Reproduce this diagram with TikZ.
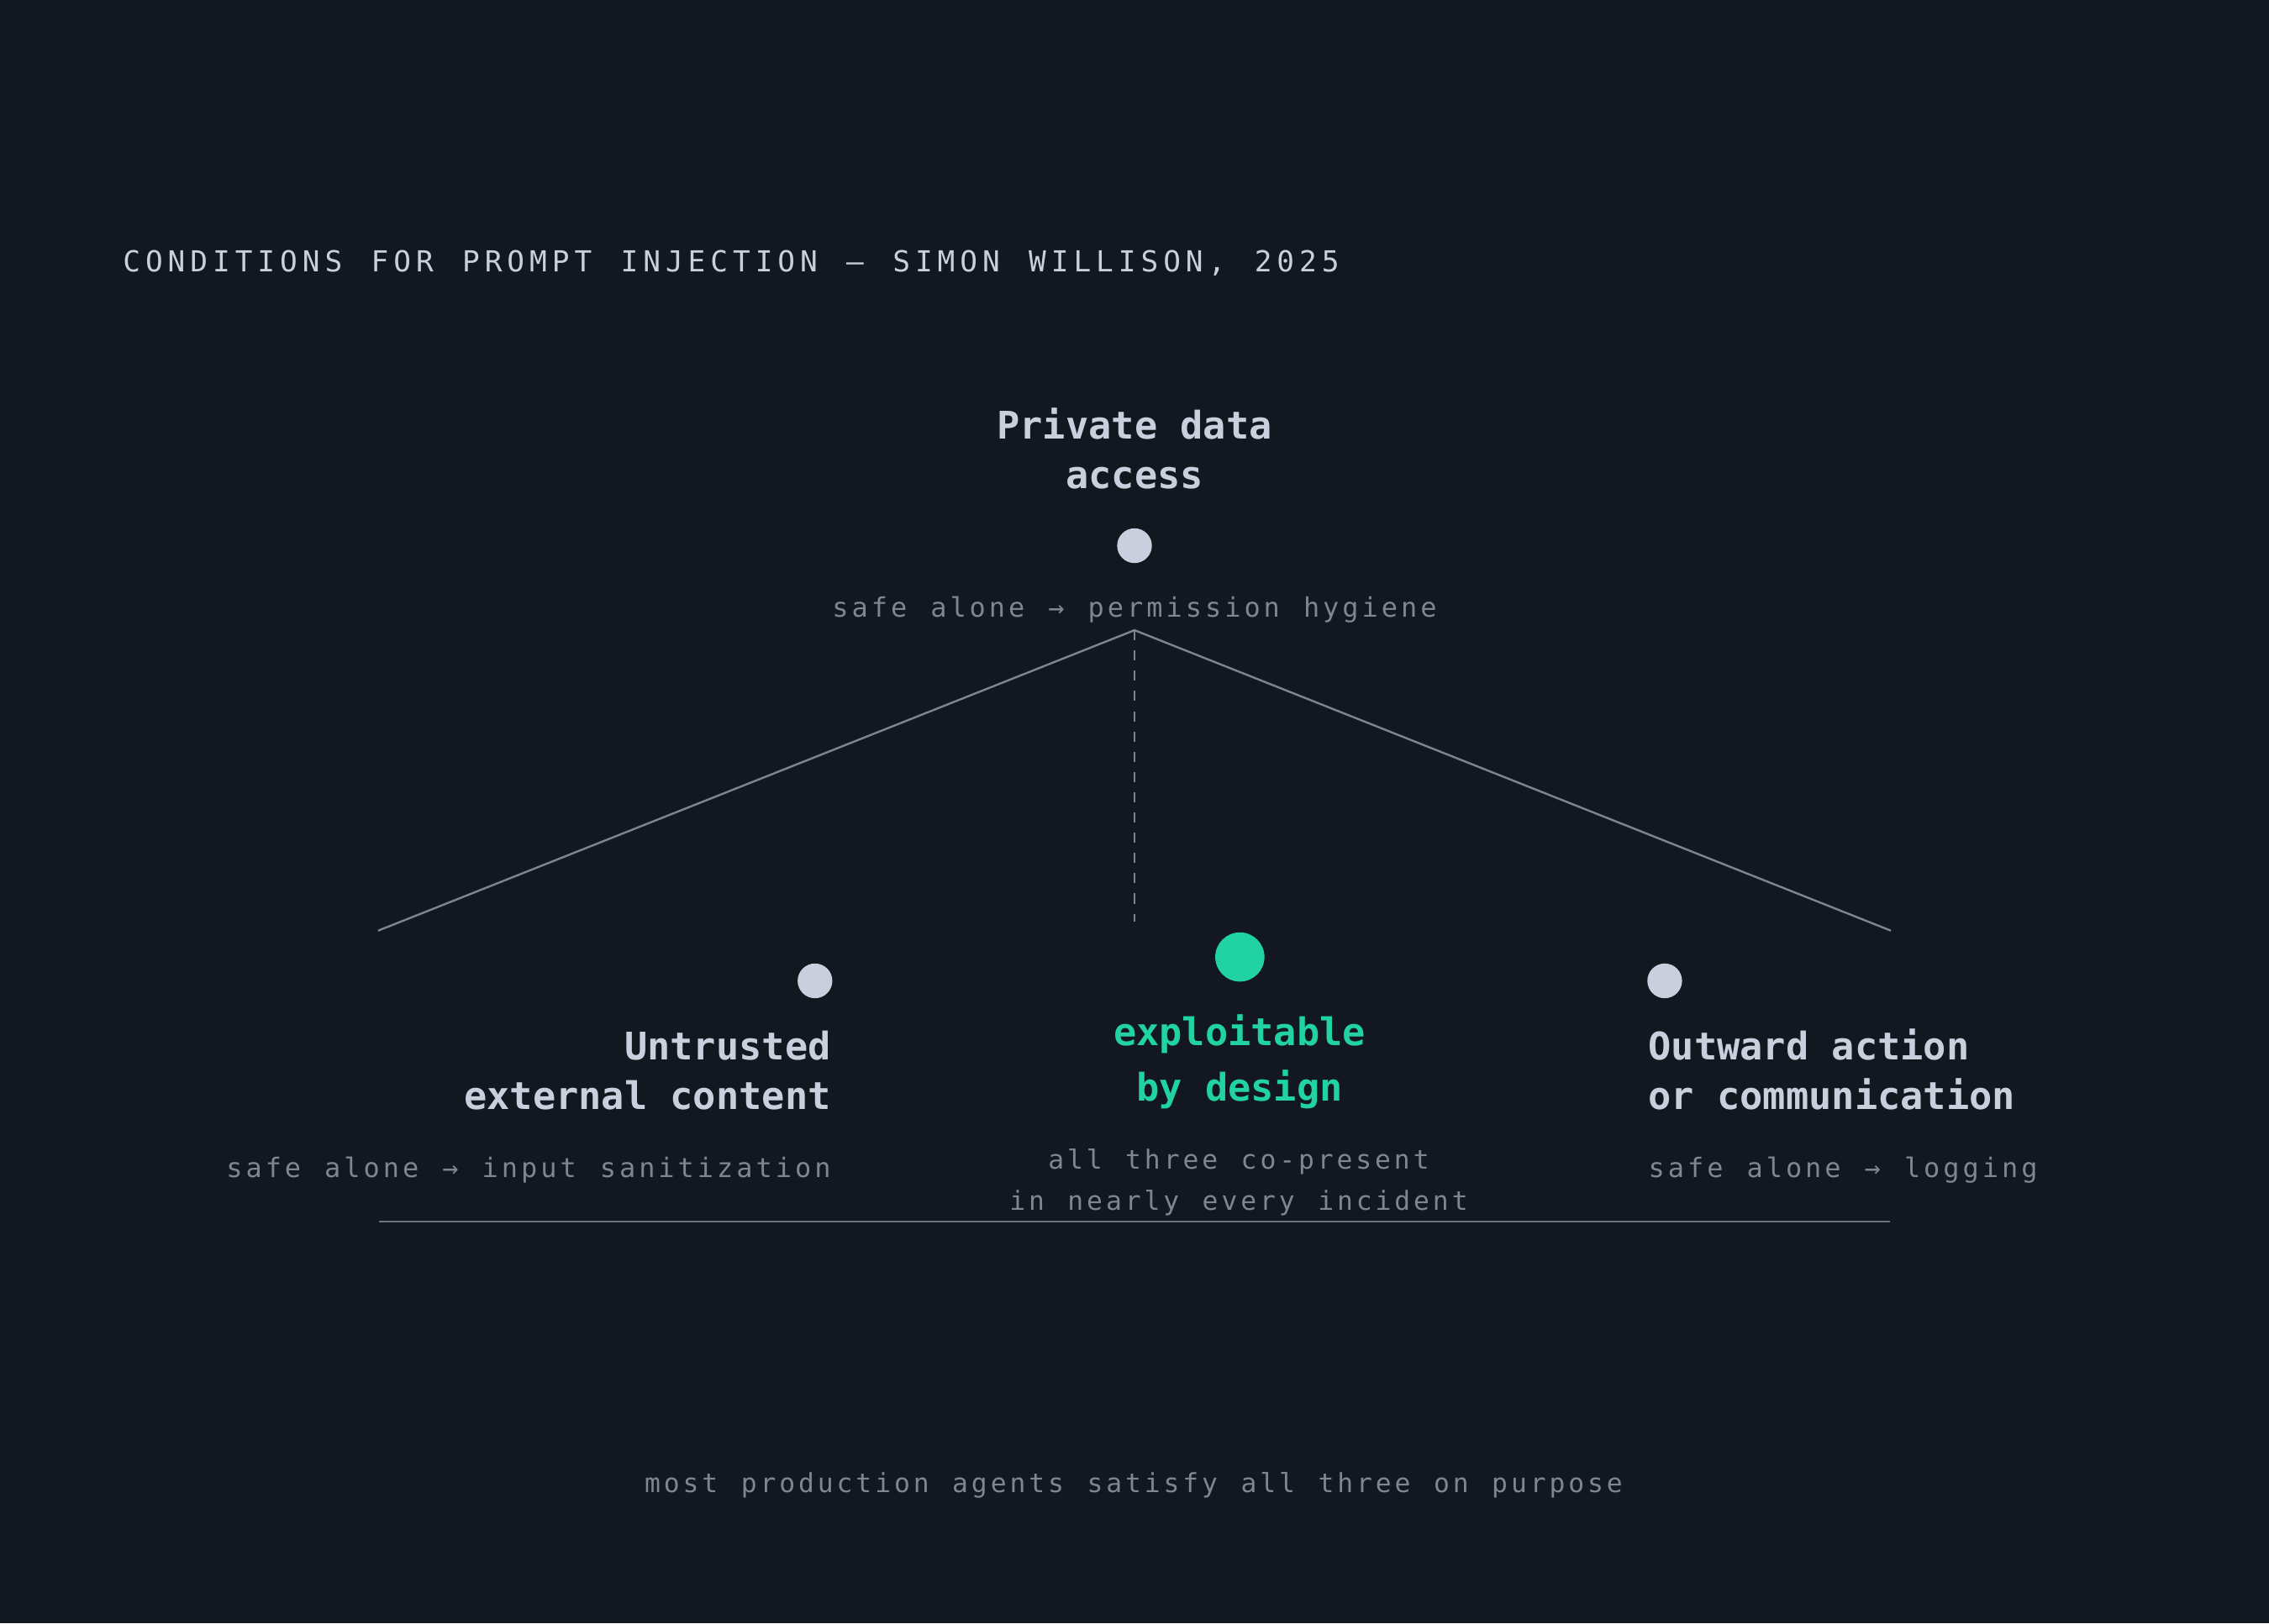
\documentclass[tikz,border=0pt]{standalone}
\usepackage{fontspec}
\setmonofont{DejaVu Sans Mono}
\newfontfamily\titlef[LetterSpace=17.3,WordSpace=1.287]{DejaVu Sans Mono}
\newfontfamily\subf[LetterSpace=12.5,WordSpace=1.2076]{DejaVu Sans Mono}
\newfontfamily\headf{DejaVu Sans Mono}
\definecolor{bgc}{HTML}{13171F}
\definecolor{lightc}{HTML}{C9CFDD}
\definecolor{grayc}{HTML}{80858F}
\definecolor{greenc}{HTML}{22D3A2}
\definecolor{linec}{HTML}{80848F}
\definecolor{basec}{HTML}{6E737D}
\tikzset{
  titletext/.style={font=\titlef\fontsize{20}{24}\selectfont, text=lightc, inner sep=0pt},
  head/.style={font=\headf\bfseries\fontsize{26.3}{34}\selectfont, text=lightc, inner sep=0pt},
  hothead/.style={head, text=greenc},
  sub/.style={font=\subf\fontsize{18.55}{28}\selectfont, text=grayc, inner sep=0pt},
  subsmall/.style={font=\subf\fontsize{18.2}{28}\selectfont, text=grayc, inner sep=0pt},
  dot/.style={circle, fill=lightc, minimum size=24pt, inner sep=0pt},
  hotdot/.style={circle, fill=greenc, minimum size=34pt, inner sep=0pt},
  link/.style={draw=linec, line width=1.4pt},
  dashlink/.style={draw=linec, line width=1.4pt, dash pattern=on 7pt off 7pt},
  baseline/.style={draw=basec, line width=0.9pt},
}
\begin{document}
\begin{tikzpicture}[x=1pt,y=-1pt]
\fill[bgc] (0,0) rectangle (1568,1122);
\useasboundingbox (0,0) rectangle (1568,1122);

% title
\node[titletext, anchor=base west] (title) at (84.8,187.6) {CONDITIONS FOR PROMPT INJECTION — SIMON WILLISON, 2025};

% top vertex
\node[head, anchor=base] (pvtA) at (784,303.7) {Private data};
\node[head, anchor=base] (pvtB) at (784,337.8) {access};
\node[dot] (pvtdot) at (784,377.2) {};
\node[sub, anchor=base] (pvtsub) at (784,426.8) {safe alone → permission hygiene};

% left vertex
\node[dot] (untdot) at (563.2,678) {};
\node[head, anchor=base east] (untA) at (574.3,732.7) {Untrusted};
\node[head, anchor=base east] (untB) at (574.3,767) {external content};
\node[sub, anchor=base east] (untsub) at (574.3,814) {safe alone → input sanitization};

% right vertex
\node[dot] (outdot) at (1150.4,678) {};
\node[head, anchor=base west] (outA) at (1139,732.7) {Outward action};
\node[head, anchor=base west] (outB) at (1139,767) {or communication};
\node[sub, anchor=base west] (outsub) at (1139,814) {safe alone → logging};

% centre
\node[hotdot] (hot) at (856.8,661.5) {};
\node[hothead, anchor=base] (hotA) at (856.6,723) {exploitable};
\node[hothead, anchor=base] (hotB) at (856.6,760.8) {by design};
\node[subsmall, anchor=base] (hotsubA) at (856,808.2) {all three co-present};
\node[subsmall, anchor=base] (hotsubB) at (856,836.3) {in nearly every incident};

% triangle
\coordinate (apex) at (784,435.6);
\coordinate (lend) at (261.3,643.3);
\coordinate (rend) at (1306.7,643.3);
\coordinate (dend) at (784,637);
\coordinate (bl) at (262,844.4);
\coordinate (br) at (1306,844.4);
\draw[link] (lend) -- (apex) -- (rend);
\draw[dashlink] (apex) -- (dend);
\draw[baseline] (bl) -- (br);

% footer
\node[subsmall, anchor=base] (foot) at (783.4,1031.4) {most production agents satisfy all three on purpose};
\end{tikzpicture}
\end{document}
